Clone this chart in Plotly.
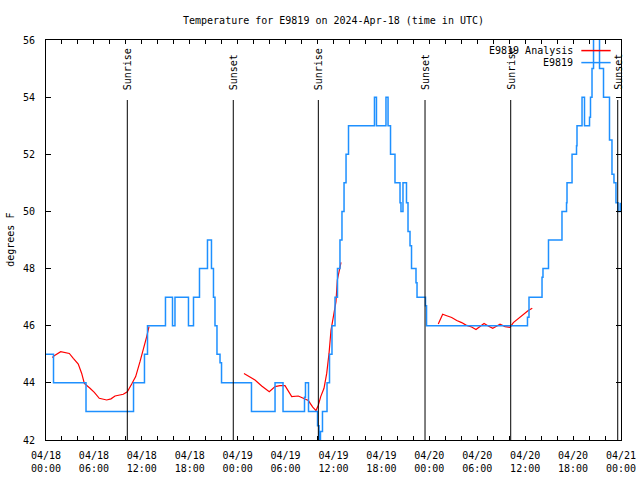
import plotly.graph_objects as go

# ---------------- data (hours since 2024-04-18 00:00 UTC) ----------------
obs_hours = [0.0, 0.94, 5.01, 10.96, 12.33, 12.71, 14.96, 15.84, 16.15, 17.84, 18.47,
             19.22, 20.22, 20.72, 20.97, 21.16, 21.41, 21.79, 21.98, 25.73, 28.68,
             29.68, 32.37, 32.49, 32.87, 34.0, 34.19, 34.37, 34.62, 35.19, 35.5,
             35.81, 36.19, 36.5, 36.81, 37.06, 37.32, 37.57, 37.88, 41.13, 41.38,
             42.57, 42.83, 43.14, 43.7, 44.33, 44.45, 44.7, 45.14, 45.33, 45.58,
             45.77, 46.33, 46.46, 47.52, 47.65, 60.29, 60.48, 62.11, 62.23, 62.92,
             64.61, 65.18, 65.24, 65.87, 66.43, 66.49, 67.12, 67.43, 68.06, 68.18,
             68.37, 68.56, 69.31, 69.81, 70.56, 70.87, 71.12, 71.37, 71.63, 71.9]
obs_temps = [45, 44, 43, 44, 45, 46, 47, 46, 47, 46, 47,
             48, 49, 48, 47, 46, 45, 44.7, 44, 43, 44,
             43, 43.5, 44, 43, 42.5, 41, 42.3, 43, 44, 45,
             46, 47, 48, 49, 50, 51, 52, 53, 54, 53,
             54, 53, 52, 51, 50.3, 50, 51, 50.3, 49.3, 48.8,
             48, 47.5, 47, 46.7, 46, 46.3, 47, 47.7, 48, 49,
             50, 50.3, 51, 52, 52.3, 53, 54, 53, 53.3, 54,
             55, 57, 55, 54, 52.5, 51.3, 51, 50.3, 50, 50.3]

ana_hours = [0.79, 1.13, 1.84, 2.38, 2.92, 3.42, 4.04, 4.47, 4.80, 5.51, 6.05, 6.67,
             7.60, 8.14, 8.64, 9.68, 10.18, 10.73, 11.23, 11.77, 12.27, 12.61, 12.90,
             None,
             24.79, 25.54, 26.17, 27.01, 27.96, 28.68, 29.30, 29.93, 30.22, 30.77,
             31.59, 32.14, 32.85, 33.40, 33.81, 34.10, 34.40, 34.81, 35.15, 35.44,
             35.69, 35.98, 36.31, 36.48, 36.73, 36.94,
             None,
             49.12, 49.67, 50.18, 50.80, 51.43, 52.05, 52.59, 53.18, 53.84, 54.34,
             54.85, 55.38, 55.94, 56.35, 56.85, 57.48, 58.10, 58.52, 59.14, 59.86,
             60.39, 60.89]
ana_temps = [44.89, 44.97, 45.09, 45.07, 45.03, 44.86, 44.66, 44.33, 43.98, 43.81, 43.67,
             43.46, 43.40, 43.44, 43.54, 43.60, 43.69, 43.96, 44.22, 44.74, 45.21, 45.62,
             45.97,
             None,
             44.33, 44.22, 44.10, 43.89, 43.69, 43.87, 43.90, 43.90, 43.75, 43.52,
             43.54, 43.46, 43.38, 43.15, 43.03, 43.22, 43.52, 43.81, 44.33, 45.03,
             45.85, 46.31, 46.84, 47.60, 48.01, 48.22,
             None,
             46.06, 46.40, 46.35, 46.29, 46.18, 46.11, 46.02, 45.97, 45.87, 45.99,
             46.08, 45.99, 45.91, 45.97, 46.05, 45.97, 45.94, 46.11, 46.26, 46.43,
             46.53, 46.61]

sun_hours = [10.18, 23.45, 34.1, 47.46, 58.19, 71.59]
sun_labels = ["Sunrise", "Sunset", "Sunrise", "Sunset", "Sunrise", "Sunset"]

xtick_vals = list(range(0, 73, 2))
xtick_major = {0: "04/18<br>00:00", 6: "04/18<br>06:00", 12: "04/18<br>12:00",
               18: "04/18<br>18:00", 24: "04/19<br>00:00", 30: "04/19<br>06:00",
               36: "04/19<br>12:00", 42: "04/19<br>18:00", 48: "04/20<br>00:00",
               54: "04/20<br>06:00", 60: "04/20<br>12:00", 66: "04/20<br>18:00",
               72: "04/21<br>00:00"}
ytick_vals = [42, 44, 46, 48, 50, 52, 54, 56]

series_names = ["E9819 Analysis", "E9819"]
RED = "#ff0000"
BLUE = "#1e90ff"
FONT = "DejaVu Sans Mono"

fig = go.Figure()
fig.add_trace(go.Scatter(x=ana_hours, y=ana_temps, mode="lines", name=series_names[0],
                         line=dict(color=RED, width=1.2), connectgaps=False,
                         showlegend=False))
fig.add_trace(go.Scatter(x=obs_hours, y=obs_temps, mode="lines", name=series_names[1],
                         line=dict(color=BLUE, width=1.5, shape="hv"),
                         showlegend=False))

shapes = []
annotations = []
for h, lab in zip(sun_hours, sun_labels):
    shapes.append(dict(type="line", xref="x", yref="y", x0=h, x1=h, y0=42, y1=53.9,
                       line=dict(color="black", width=1)))
    annotations.append(dict(x=h, xref="x", y=0.87, yref="paper", text=lab,
                            textangle=-90, showarrow=False, xanchor="center",
                            yanchor="bottom", font=dict(family=FONT, size=10, color="black")))

# manual gnuplot-style key (text then line sample)
key_y = [0.9735, 0.9435]
key_col = [RED, BLUE]
for name, yy, col in zip(series_names, key_y, key_col):
    annotations.append(dict(x=0.92, xref="paper", y=yy, yref="paper", text=name,
                            showarrow=False, xanchor="right", yanchor="middle",
                            font=dict(family=FONT, size=10, color="black")))
    shapes.append(dict(type="line", xref="paper", yref="paper", x0=0.931, x1=0.982,
                       y0=yy, y1=yy, line=dict(color=col, width=1.5)))

annotations.append(dict(x=-0.063, xref="paper", y=0.5, yref="paper", text="degrees F",
                        textangle=-90, showarrow=False, xanchor="center", yanchor="middle",
                        font=dict(family=FONT, size=10, color="black")))

fig.update_layout(
    width=640, height=480,
    margin=dict(l=46, r=19, t=40, b=40, autoexpand=False),
    paper_bgcolor="white", plot_bgcolor="white",
    title=dict(text="Temperature for E9819 on 2024-Apr-18 (time in UTC)",
               x=0.5, xref="paper", y=1 - 20 / 480, yref="container",
               xanchor="center", yanchor="middle",
               font=dict(family=FONT, size=10, color="black")),
    font=dict(family=FONT, size=10, color="black"),
    shapes=shapes, annotations=annotations,
    showlegend=False,
)
fig.update_xaxes(range=[0, 72], tickmode="array", tickvals=xtick_vals,
                 ticktext=[xtick_major.get(v, "") for v in xtick_vals],
                 ticks="inside", ticklen=4, tickcolor="black", showline=True,
                 linecolor="black", linewidth=1, mirror="ticks", showgrid=False,
                 zeroline=False, ticklabelstandoff=6, automargin=False,
                 tickfont=dict(family=FONT, size=10, color="black"))
fig.update_yaxes(range=[42, 56], tickmode="array", tickvals=ytick_vals,
                 ticks="inside", ticklen=5, tickcolor="black", showline=True,
                 linecolor="black", linewidth=1, mirror="ticks", showgrid=False,
                 zeroline=False, ticklabelstandoff=8, automargin=False,
                 tickfont=dict(family=FONT, size=10, color="black"))

fig.write_html("out.html", config={"displayModeBar": False},
               post_script="document.body.style.margin='0';document.body.style.padding='0';")
